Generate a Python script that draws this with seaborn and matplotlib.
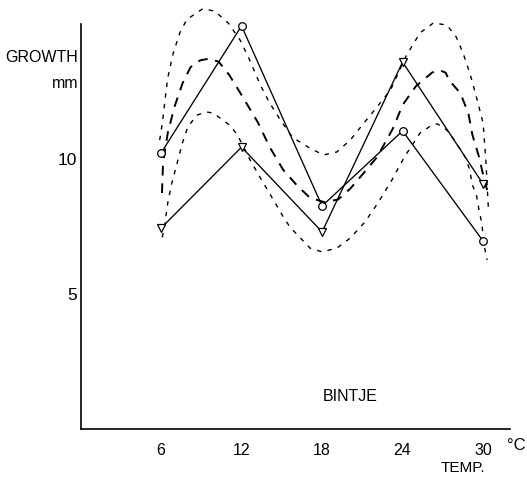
import matplotlib
matplotlib.use("Agg")
import matplotlib.pyplot as plt
import seaborn as sns

# ---- data ----
temps = [6, 12, 18, 24, 30]
growth_circle = [10.22, 14.93, 8.26, 11.04, 6.96]
growth_triangle = [7.44, 10.44, 7.30, 13.59, 9.07]

upper_x = [5.9, 6.1, 6.3, 6.5, 6.9, 7.4, 7.9, 8.4, 9.1, 10.0, 11.0, 11.9, 12.6, 13.4,
           14.1, 14.9, 15.8, 17.1, 18.1, 19.1, 20.1, 21.0, 22.1, 23.1, 24.3, 25.3,
           26.3, 27.3, 28.0, 28.5, 29.0, 29.5, 30.0, 30.2, 30.4]
upper_y = [10.7, 11.33, 12.2, 13.0, 13.9, 14.67, 15.15, 15.33, 15.56, 15.48, 15.04,
           14.4, 13.67, 12.74, 12.07, 11.44, 10.8, 10.4, 10.15, 10.26, 10.7, 11.26,
           11.93, 12.56, 13.85, 14.67, 15.04, 14.96, 14.52, 13.93, 13.2, 12.3, 11.33,
           10.0, 8.1]

mid_x = [6.07, 6.15, 6.5, 7.0, 7.6, 8.2, 8.9, 9.6, 10.3, 11.1, 12.0, 13.2, 14.1, 15.1,
         16.1, 17.1, 18.2, 19.2, 20.1, 21.1, 22.1, 23.3, 24.0, 25.0, 26.2, 26.7, 27.2,
         27.5, 28.3, 28.9, 29.2, 29.7, 30.1, 30.3]
mid_y = [8.74, 9.85, 10.96, 11.93, 12.8, 13.4, 13.65, 13.72, 13.6, 13.1, 12.37, 11.37,
         10.44, 9.6, 9.04, 8.56, 8.4, 8.5, 8.9, 9.48, 10.07, 11.15, 12.0, 12.7, 13.2,
         13.3, 13.2, 12.9, 12.44, 11.7, 10.9, 10.07, 9.2, 8.85]

lower_x = [6.1, 6.3, 6.5, 6.8, 7.2, 7.6, 8.0, 8.7, 9.4, 9.9, 11.1, 11.7, 12.6, 13.4,
           14.3, 15.0, 15.6, 16.4, 17.1, 18.0, 19.1, 20.1, 21.2, 22.2, 23.3, 23.8,
           24.3, 25.3, 26.2, 26.6, 27.3, 28.0, 28.7, 29.0, 29.2, 29.5, 29.7, 29.9,
           30.1, 30.3]
lower_y = [7.1, 7.63, 8.37, 9.1, 9.85, 10.6, 11.2, 11.63, 11.74, 11.7, 11.26, 10.89,
           10.0, 9.3, 8.55, 7.95, 7.48, 7.07, 6.7, 6.56, 6.7, 7.07, 7.67, 8.4, 9.3,
           9.78, 10.2, 10.96, 11.26, 11.3, 11.07, 10.6, 10.04, 9.6, 9.04, 8.67, 8.1,
           7.63, 6.74, 6.26]

x_ticks = [6, 12, 18, 24, 30]
y_ticks = [5, 10, 15]
y_tick_labels = ["5", "10", ""]

# ---- figure ----
sns.set_style("white")
FONT = ["Liberation Sans", "DejaVu Sans"]
plt.rcParams["font.family"] = FONT
plt.rcParams["text.color"] = "black"

W, H = 527, 484
fig = plt.figure(figsize=(W / 100, H / 100), dpi=100)
x0_px, y0_px = 80.5, 429
px_x, px_y = 13.42, 27.0
xmax, ymax = 32, 15.85
ax = fig.add_axes([x0_px / W, (H - y0_px) / H, xmax * px_x / W, ymax * px_y / H])

curve_kw = dict(ax=ax, color="black", estimator=None, sort=False, legend=False)
sns.lineplot(x=upper_x, y=upper_y, lw=1.0, linestyle=(0, (3.2, 4.5)), **curve_kw)
sns.lineplot(x=mid_x, y=mid_y, lw=1.4, linestyle=(0, (5.0, 4.0)), **curve_kw)
sns.lineplot(x=lower_x, y=lower_y, lw=1.0, linestyle=(0, (3.2, 4.5)), **curve_kw)

sns.lineplot(x=temps, y=growth_circle, color="black", lw=0.95, marker="o",
             markersize=5.5, markerfacecolor="white", markeredgecolor="black",
             markeredgewidth=0.9, ax=ax, estimator=None, legend=False)
sns.lineplot(x=temps, y=growth_triangle, color="black", lw=0.95, marker="v",
             markersize=6, markerfacecolor="white", markeredgecolor="black",
             markeredgewidth=0.9, ax=ax, estimator=None, legend=False)
for ln in ax.lines:
    ln.set_clip_on(False)

ax.set_xlim(0, xmax)
ax.set_ylim(0, ymax)
ax.set_xticks(x_ticks)
ax.set_xticklabels([str(t) for t in x_ticks], fontsize=11.5, family=FONT)
ax.set_yticks(y_ticks)
ax.set_yticklabels(y_tick_labels, fontsize=12.5, family=FONT)
ax.tick_params(axis="x", direction="in", length=6.5, width=1.0, pad=10, colors="black")
ax.tick_params(axis="y", direction="in", length=6, width=1.0, pad=2.5, colors="black")
ax.set_xlabel("")
ax.set_ylabel("")

for s in ["top", "right"]:
    ax.spines[s].set_visible(False)
for s in ["left", "bottom"]:
    ax.spines[s].set_color("black")
    ax.spines[s].set_linewidth(1.2)
ax.spines["left"].set_bounds(0, 15)
ax.spines["bottom"].set_bounds(0, 32)
ax.patch.set_alpha(0)

fig.text(78 / W, 1 - 58 / H, "GROWTH", ha="right", va="center", fontsize=11.5,
         family=FONT, color="black")
fig.text(78 / W, 1 - 84 / H, "mm", ha="right", va="center", fontsize=11.5,
         family=FONT, color="black")
ax.text(20.1, 1.2, "BINTJE", ha="center", va="center", fontsize=11.5,
        family=FONT, color="black")
fig.text(516 / W, 1 - 446 / H, "°C", ha="center", va="center", fontsize=12,
         family=FONT, color="black")
fig.text(463 / W, 1 - 468 / H, "TEMP.", ha="center", va="center", fontsize=11,
         family=FONT, color="black")

fig.savefig("out.png", dpi=100, facecolor="white")
